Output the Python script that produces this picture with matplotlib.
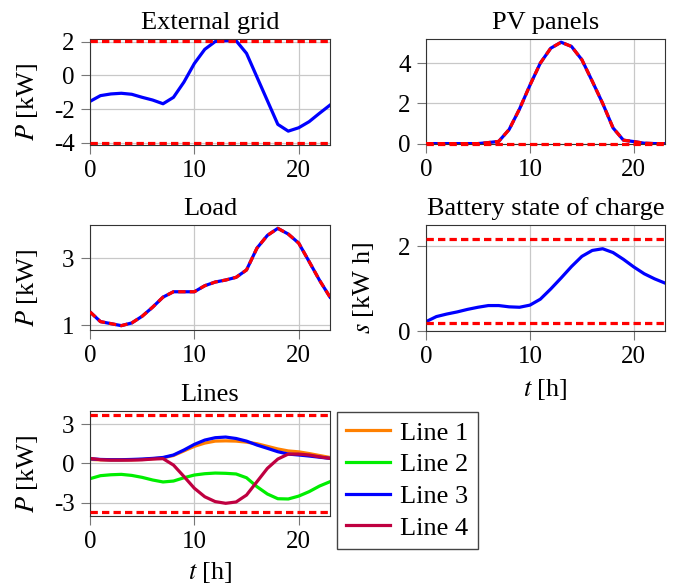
import matplotlib.pyplot as plt

plt.rcParams['font.family'] = ['Liberation Serif', 'DejaVu Serif']
plt.rcParams['mathtext.fontset'] = 'stix'
plt.rcParams['axes.unicode_minus'] = False
plt.rcParams['font.size'] = 18

# Data
hours = list(range(24))
grid_p = [-1.54, -1.2, -1.1, -1.06, -1.12, -1.3, -1.46, -1.68, -1.3, -0.4, 0.7, 1.54,
          2.0, 2.05, 2.05, 1.3, -0.1, -1.5, -2.9, -3.3, -3.1, -2.74, -2.24, -1.76]
grid_limits = [2.05, -4.03]
pv_p = [0, 0, 0, 0, 0, 0, 0.05, 0.11, 0.7, 1.72, 2.9, 4.0,
        4.74, 5.04, 4.83, 4.17, 3.1, 2.0, 0.78, 0.17, 0.1, 0.02, 0, 0]
load_p = [1.40, 1.11, 1.05, 0.99, 1.07, 1.27, 1.54, 1.84, 2.0, 2.0, 2.0, 2.18,
          2.29, 2.35, 2.43, 2.65, 3.3, 3.68, 3.89, 3.72, 3.45, 2.9, 2.34, 1.84]
soc = [0.22, 0.34, 0.40, 0.45, 0.51, 0.56, 0.6, 0.6, 0.57, 0.56, 0.61, 0.75,
       0.99, 1.25, 1.52, 1.76, 1.9, 1.94, 1.85, 1.69, 1.51, 1.35, 1.23, 1.13]
soc_limits = [2.18, 0.18]
line1 = [0.3, 0.27, 0.25, 0.25, 0.27, 0.3, 0.35, 0.42, 0.6, 0.95, 1.3, 1.55,
         1.7, 1.72, 1.7, 1.62, 1.5, 1.3, 1.1, 0.95, 0.88, 0.75, 0.6, 0.45]
line2 = [-1.17, -0.94, -0.87, -0.84, -0.92, -1.07, -1.27, -1.42, -1.35, -1.1, -0.89, -0.79,
         -0.74, -0.76, -0.81, -1.1, -1.78, -2.34, -2.7, -2.72, -2.5, -2.16, -1.73, -1.4]
line3 = [0.35, 0.3, 0.28, 0.28, 0.3, 0.33, 0.38, 0.45, 0.64, 1.02, 1.45, 1.78,
         1.96, 2.01, 1.9, 1.7, 1.4, 1.15, 0.89, 0.71, 0.64, 0.56, 0.47, 0.38]
line4 = [0.38, 0.28, 0.25, 0.25, 0.25, 0.27, 0.33, 0.36, -0.13, -1.0, -1.9, -2.55,
         -2.92, -3.05, -2.95, -2.42, -1.4, -0.38, 0.33, 0.71, 0.71, 0.64, 0.5, 0.38]
line_limits = [3.68, -3.68]

W, H = 679, 588
fig = plt.figure(figsize=(W / 100, H / 100), dpi=100)


def make_ax(x0, y0, x1, y1):
    ax = fig.add_axes([x0 / W, 1 - y1 / H, (x1 - x0) / W, (y1 - y0) / H])
    ax.grid(True, color='#c8c8c8', linewidth=0.9)
    ax.set_axisbelow(True)
    ax.set_xlim(0, 23)
    ax.set_xticks([0, 10, 20])
    ax.tick_params(direction='out', length=6.5, color='#777777', pad=4.5)
    for s in ax.spines.values():
        s.set_color('#333333')
    return ax


def set_ylab(ax, text, width, height):
    ax.set_ylabel(text, fontsize=19)
    ax.yaxis.set_label_coords(-50 / width, 0.5 - 10 / height)


lw = 2.3
dash = dict(color='#ff0000', linestyle=(0, (2.3, 1.3)), linewidth=lw, zorder=3)
title_kw = dict(fontsize=19, pad=7.5)
label_fs = 19

# External grid
ax1 = make_ax(90, 39, 330, 145)
ax1.plot(hours, grid_p, color='#0000ff', linewidth=lw)
for v in grid_limits:
    ax1.axhline(v, **dash)
ax1.set_ylim(-4.12, 2.15)
ax1.set_yticks([-4, -2, 0, 2])
ax1.set_title('External grid', **title_kw)
set_ylab(ax1, r'$P$ [kW]', 240, 106)

# PV panels
ax2 = make_ax(426, 39, 665, 144)
ax2.plot(hours, pv_p, color='#0000ff', linewidth=lw)
ax2.plot(hours, pv_p, **dash)
ax2.axhline(0, clip_on=False, **dash)
ax2.set_ylim(-0.02, 5.2)
ax2.set_yticks([0, 2, 4])
ax2.set_title('PV panels', **title_kw)

# Load
ax3 = make_ax(90, 225, 330, 330)
ax3.plot(hours, load_p, color='#0000ff', linewidth=lw)
ax3.plot(hours, load_p, **dash)
ax3.set_ylim(0.86, 3.99)
ax3.set_yticks([1, 3])
ax3.set_title('Load', **title_kw)
set_ylab(ax3, r'$P$ [kW]', 240, 105)

# Battery state of charge
ax4 = make_ax(426, 225, 665, 331)
ax4.plot(hours, soc, color='#0000ff', linewidth=lw)
for v in soc_limits:
    ax4.axhline(v, **dash)
ax4.set_ylim(0, 2.5)
ax4.set_yticks([0, 2])
ax4.set_title('Battery state of charge', **title_kw)
set_ylab(ax4, r'$s$ [kW h]', 239, 106)
ax4.set_xlabel(r'$t$ [h]', fontsize=label_fs, labelpad=6)

# Lines
ax5 = make_ax(90, 411, 330, 516)
ax5.plot(hours, line1, color='#ff8000', linewidth=lw, label='Line 1')
ax5.plot(hours, line2, color='#00ee00', linewidth=lw, label='Line 2')
ax5.plot(hours, line3, color='#0000ff', linewidth=lw, label='Line 3')
ax5.plot(hours, line4, color='#bf0040', linewidth=lw, label='Line 4')
for v in line_limits:
    ax5.axhline(v, **dash)
ax5.set_ylim(-4.02, 4.0)
ax5.set_yticks([-3, 0, 3])
ax5.set_title('Lines', **title_kw)
set_ylab(ax5, r'$P$ [kW]', 240, 105)
ax5.set_xlabel(r'$t$ [h]', fontsize=label_fs, labelpad=5)

handles, labels = ax5.get_legend_handles_labels()
leg = fig.legend(handles, labels, loc='upper left',
                 bbox_to_anchor=(337 / W, 1 - 412 / H), fancybox=False,
                 edgecolor='#444444', framealpha=1, fontsize=19,
                 handlelength=1.65, handletextpad=0.4, labelspacing=0.31,
                 borderpad=0.35, borderaxespad=0)
leg.get_frame().set_linewidth(1.0)

fig.savefig('out.png', dpi=100)
